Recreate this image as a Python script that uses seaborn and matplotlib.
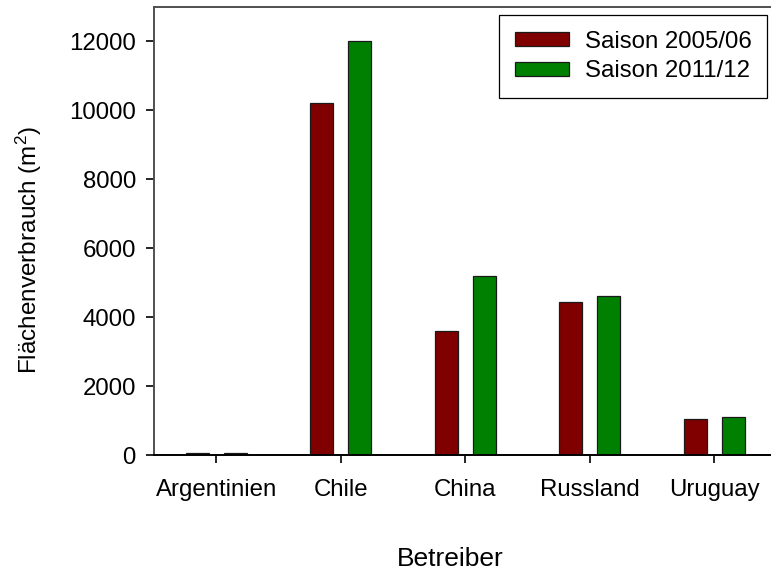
import matplotlib
matplotlib.use("Agg")
import matplotlib.pyplot as plt
import seaborn as sns
import pandas as pd

# Area consumption per operator and season
betreiber = ["Argentinien", "Chile", "China", "Russland", "Uruguay"]
saison_2005_06 = [60, 10200, 3600, 4450, 1050]
saison_2011_12 = [45, 12000, 5200, 4600, 1100]
saisons = ["Saison 2005/06", "Saison 2011/12"]
farben = ["#800000", "#008000"]
y_ticks = [0, 2000, 4000, 6000, 8000, 10000, 12000]

df = pd.DataFrame({
    "Betreiber": betreiber * 2,
    "Saison": [saisons[0]] * len(betreiber) + [saisons[1]] * len(betreiber),
    "Wert": saison_2005_06 + saison_2011_12,
})

sns.set_theme(style="white")
plt.rcParams["font.family"] = ["Liberation Sans", "DejaVu Sans"]
plt.rcParams["mathtext.fontset"] = "custom"
plt.rcParams["mathtext.rm"] = "Liberation Sans"
plt.rcParams["mathtext.it"] = "Liberation Sans"
plt.rcParams["text.color"] = "black"
plt.rcParams["axes.labelcolor"] = "black"

W, H = 771, 576
fig = plt.figure(figsize=(W / 100, H / 100), dpi=100)
ax = fig.add_axes([154 / W, (H - 455) / H, (W - 154) / W, (455 - 7) / H])

sns.barplot(data=df, x="Betreiber", y="Wert", hue="Saison", palette=farben,
            saturation=1, width=0.61, gap=0.39, edgecolor="#1a1a1a",
            linewidth=0.9, ax=ax, order=betreiber, hue_order=saisons)

ax.set_xlim(-0.5, -0.5 + (W - 154) / 124.5)
ax.set_ylim(0, 13000)
ax.set_yticks(y_ticks)
ax.set_yticklabels([str(t) for t in y_ticks])

ax.tick_params(axis="both", which="both", direction="out", length=6, width=1.2,
               colors="black", labelsize=17.3, labelcolor="black")
ax.tick_params(axis="x", pad=11, bottom=True)
ax.tick_params(axis="y", pad=7, left=True)

for side in ["left", "top"]:
    ax.spines[side].set_color("#505050")
    ax.spines[side].set_linewidth(1.4)
ax.spines["bottom"].set_color("black")
ax.spines["bottom"].set_linewidth(1.4)
ax.spines["right"].set_visible(False)

ax.set_xlabel("Betreiber", fontsize=19)
ax.set_ylabel("Flächenverbrauch (m$^2$)", fontsize=17.5)
ax.xaxis.set_label_coords((450 - 154) / (W - 154), (455 - 547) / 448)
ax.yaxis.set_label_coords(-(154 - 44) / (W - 154), (455 - 250) / 448)

handles, labels = ax.get_legend_handles_labels()
ax.legend(handles, labels, loc="upper right",
          bbox_to_anchor=(767 / W, 1 - 15 / H), bbox_transform=fig.transFigure,
          borderaxespad=0, fontsize=17.3, frameon=True, fancybox=False,
          edgecolor="black", framealpha=1, handlelength=2.25, handleheight=0.55,
          handletextpad=0.65, labelspacing=0.32, borderpad=0.65)
ax.get_legend().get_frame().set_linewidth(0.9)
for t in ax.get_legend().get_texts():
    t.set_color("black")

fig.savefig("out.png", dpi=100)
